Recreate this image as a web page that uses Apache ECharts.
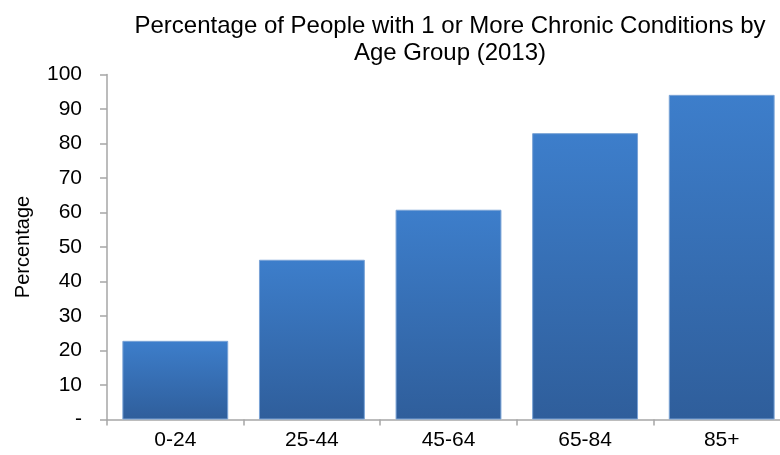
<!DOCTYPE html>
<html>
<head>
<meta charset="utf-8">
<script src="https://cdn.jsdelivr.net/npm/echarts@6/dist/echarts.min.js"></script>
<style>
html,body{margin:0;padding:0;background:#fff;}
#chart{width:780px;height:455px;}
</style>
</head>
<body>
<div id="chart"></div>
<script>
const titleText = 'Percentage of People with 1 or More Chronic Conditions by\nAge Group (2013)';
const categories = ['0-24', '25-44', '45-64', '65-84', '85+'];
const values = [22.8, 46.3, 60.8, 83.0, 94.1];
const yAxisName = 'Percentage';

const chart = echarts.init(document.getElementById('chart'), null, {renderer: 'canvas'});
const font = '"Liberation Sans", Arial, sans-serif';
chart.setOption({
  animation: false,
  backgroundColor: '#ffffff',
  title: {
    text: titleText,
    left: 445,
    textAlign: 'center',
    top: 8,
    textStyle: {fontFamily: font, fontSize: 24, fontWeight: 'normal', color: '#000', lineHeight: 27}
  },
  grid: {left: 107, width: 683, top: 74.5, bottom: 35.5, containLabel: false, outerBoundsMode: 'none'},
  xAxis: {
    type: 'category',
    data: categories,
    axisLine: {lineStyle: {color: '#a6a6a6', width: 1.5}},
    axisTick: {show: true, length: 6, alignWithLabel: false, lineStyle: {color: '#a6a6a6', width: 1.5}},
    axisLabel: {fontFamily: font, fontSize: 21, color: '#000', margin: 10}
  },
  yAxis: {
    type: 'value',
    min: 0, max: 100, interval: 10,
    name: yAxisName,
    nameLocation: 'middle',
    nameGap: 74,
    nameRotate: 90,
    nameTextStyle: {fontFamily: font, fontSize: 20, color: '#000'},
    axisLine: {show: true, lineStyle: {color: '#a6a6a6', width: 1.5}},
    axisTick: {show: true, length: 7, lineStyle: {color: '#a6a6a6', width: 1.5}},
    splitLine: {show: false},
    axisLabel: {
      fontFamily: font, fontSize: 21, color: '#000', margin: 25,
      formatter: v => v === 0 ? '-' : String(v)
    }
  },
  series: [{
    type: 'bar',
    data: values,
    barCategoryGap: '22.5%',
    itemStyle: {
      color: new echarts.graphic.LinearGradient(0, 0, 0, 1, [
        {offset: 0, color: '#3d7ecb'},
        {offset: 1, color: '#2f5e9b'}
      ]),
      borderColor: '#7aa3d6',
      borderWidth: 1
    }
  }]
});
</script>
</body>
</html>
